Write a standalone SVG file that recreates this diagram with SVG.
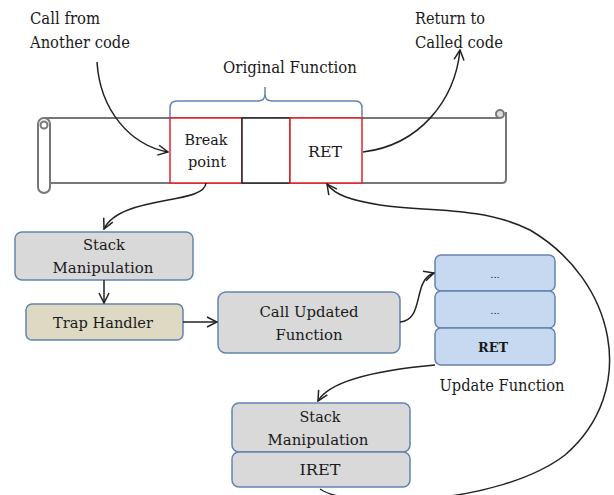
<svg xmlns="http://www.w3.org/2000/svg" width="614" height="495" viewBox="0 0 614 495">
<defs>
<marker id="ah" viewBox="0 0 12 12" refX="11" refY="6" markerWidth="12" markerHeight="12" markerUnits="userSpaceOnUse" orient="auto">
<path d="M1,1 L11,6 L1,11" fill="none" stroke="#222" stroke-width="1.5"/>
</marker>
</defs>
<style>
text{font-family:'DejaVu Serif',serif;fill:#1a1a1a;text-anchor:middle}
.lbl{font-size:16px}
.nt{font-size:15px}
.st{text-anchor:start}
.gray{fill:#d9d9d9;stroke:#6583b0;stroke-width:1.5}
.tan{fill:#ddd9c3;stroke:#6583b0;stroke-width:1.5}
.blue{fill:#c6d9f0;stroke:#6583b0;stroke-width:1.5}
.red{fill:#fff;stroke:#e8202a;stroke-width:1.5}
.conn path{fill:none;stroke:#222;stroke-width:1.5}
</style>
<rect width="614" height="495" fill="#fff"/>

<g id="scroll" fill="none" stroke="#777" stroke-width="2">
<path d="M44,118 L500,118"/>
<path d="M506,112 L506,179 Q506,183 502,183 L50,183"/>
<circle cx="500" cy="114" r="4" fill="#ddd"/>
<rect x="38" y="118" width="12" height="75" rx="6" fill="#fff"/>
<circle cx="44" cy="125" r="3.5"/>
</g>

<g id="original-function">
<g id="breakpoint"><rect class="red" x="170" y="118" width="72" height="65"/><text class="nt" x="206" y="145" textLength="43" lengthAdjust="spacingAndGlyphs">Break</text><text class="nt" x="207" y="167" textLength="38" lengthAdjust="spacingAndGlyphs">point</text></g>
<g id="middle"><rect x="242" y="118" width="48" height="65" fill="#fff" stroke="#222" stroke-width="1.5"/></g>
<g id="ret"><rect class="red" x="290" y="118" width="72" height="65"/><text class="nt" x="325" y="157" textLength="34" lengthAdjust="spacingAndGlyphs">RET</text></g>
<path id="brace" d="M170,117 L170,108 Q170,101 177,101 L258,101 Q265,101 265,94 L265,87 M265,94 Q265,101 272,101 L355,101 Q362,101 362,108 L362,117" fill="none" stroke="#6583b0" stroke-width="1.5"/>
<text class="lbl" x="290" y="73" textLength="134" lengthAdjust="spacingAndGlyphs">Original Function</text>
</g>

<g id="call-from"><text class="lbl st" x="30" y="24" textLength="70" lengthAdjust="spacingAndGlyphs">Call from</text><text class="lbl st" x="30" y="48" textLength="100" lengthAdjust="spacingAndGlyphs">Another code</text></g>
<g id="return-to"><text class="lbl st" x="415" y="24" textLength="70" lengthAdjust="spacingAndGlyphs">Return to</text><text class="lbl st" x="415" y="48" textLength="88" lengthAdjust="spacingAndGlyphs">Called code</text></g>

<g id="stack1"><rect class="gray" x="15" y="232" width="178" height="48" rx="7"/><text class="nt" x="104" y="250" textLength="42" lengthAdjust="spacingAndGlyphs">Stack</text><text class="nt" x="103" y="273" textLength="101" lengthAdjust="spacingAndGlyphs">Manipulation</text></g>
<g id="trap"><rect class="tan" x="26" y="304" width="157" height="36" rx="6"/><text class="nt" x="103" y="328" textLength="100" lengthAdjust="spacingAndGlyphs">Trap Handler</text></g>
<g id="call-updated"><rect class="gray" x="218" y="292" width="182" height="61" rx="8"/><text class="nt" x="309" y="317" textLength="99" lengthAdjust="spacingAndGlyphs">Call Updated</text><text class="nt" x="309" y="340" textLength="67" lengthAdjust="spacingAndGlyphs">Function</text></g>

<g id="update-function">
<rect class="blue" x="435" y="255" width="120" height="36" rx="6"/><text x="495" y="278" style="font-size:10px">...</text>
<rect class="blue" x="435" y="291" width="120" height="37" rx="6"/><text x="495" y="314" style="font-size:10px">...</text>
<rect class="blue" x="435" y="328" width="120" height="37" rx="6"/><text x="493" y="352" style="font-size:12px;font-weight:bold" textLength="30" lengthAdjust="spacingAndGlyphs">RET</text>
<text class="lbl" x="502" y="391" textLength="125" lengthAdjust="spacingAndGlyphs">Update Function</text>
</g>

<g id="stack2">
<rect class="gray" x="232" y="403" width="178" height="49" rx="7"/><text class="nt" x="320" y="422" textLength="41" lengthAdjust="spacingAndGlyphs">Stack</text><text class="nt" x="318" y="445" textLength="101" lengthAdjust="spacingAndGlyphs">Manipulation</text>
<rect class="gray" x="232" y="452" width="178" height="35" rx="7"/><text class="nt" x="320" y="475" textLength="41" lengthAdjust="spacingAndGlyphs">IRET</text>
</g>

<g class="conn" id="connectors">
<path d="M97,62 C100,110 130,145 168,152" marker-end="url(#ah)"/>
<path d="M363,152 C420,145 455,100 460,50" marker-end="url(#ah)"/>
<path d="M206,183 C205,205 120,195 104,229" marker-end="url(#ah)"/>
<path d="M104,280 L104,303" marker-end="url(#ah)"/>
<path d="M183,322 L217,322" marker-end="url(#ah)"/>
<path d="M400,322 C425,320 412,280 434,273" marker-end="url(#ah)"/>
<path d="M435,365 C380,370 330,380 318,401" marker-end="url(#ah)"/>
<path d="M320,489 C350,510 500,505 565,455 C640,390 615,280 530,230 C480,205 420,212 380,205 C350,200 335,195 327,184" marker-end="url(#ah)"/>
</g>
</svg>
